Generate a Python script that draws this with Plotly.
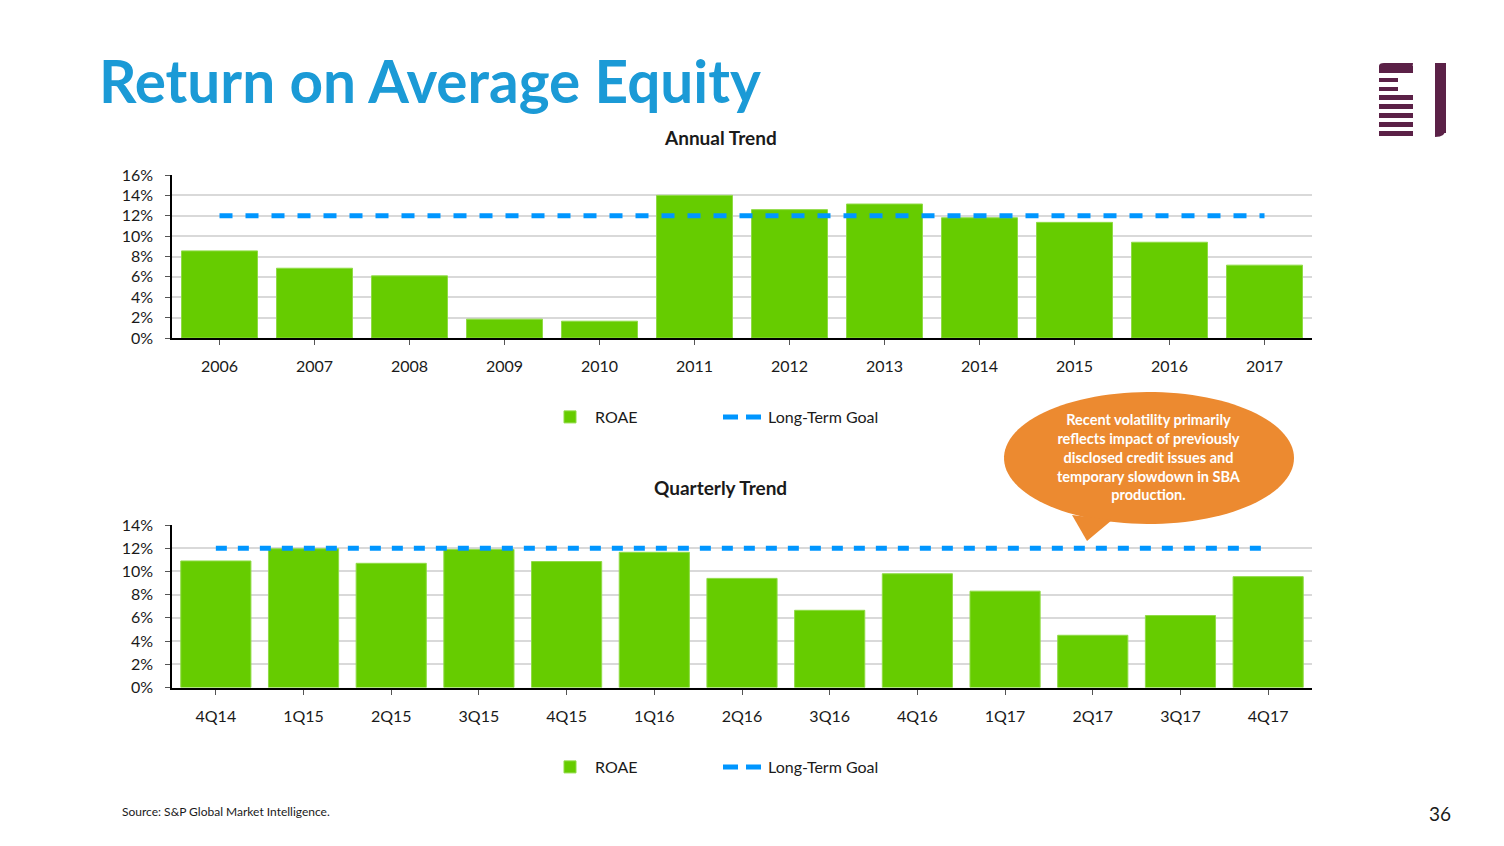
import numpy as np
import plotly.graph_objects as go

# ---------------- data ----------------
years = ["2006", "2007", "2008", "2009", "2010", "2011", "2012", "2013", "2014", "2015", "2016", "2017"]
annual_roae = [8.55, 6.85, 6.1, 1.85, 1.65, 14.0, 12.6, 13.15, 11.8, 11.35, 9.4, 7.15]
annual_goal = [12] * len(years)

quarters = ["4Q14", "1Q15", "2Q15", "3Q15", "4Q15", "1Q16", "2Q16", "3Q16", "4Q16", "1Q17", "2Q17", "3Q17", "4Q17"]
quarterly_roae = [10.9, 11.95, 10.7, 11.9, 10.85, 11.65, 9.4, 6.65, 9.8, 8.3, 4.5, 6.2, 9.55]
quarterly_goal = [12] * len(quarters)

W, H = 1504, 846
GREEN = "#66CC00"
BLUE = "#0096FF"
FONT = "Lato"
TXT = "#1a1a1a"


def px(x):
    return x / W


def py(y):
    return 1 - y / H


fig = go.Figure()

bar_style = dict(color=GREEN, line=dict(color="#8FDB45", width=1))
fig.add_trace(go.Bar(x=years, y=annual_roae, name="ROAE", marker=bar_style,
                     xaxis="x", yaxis="y", legend="legend", hoverinfo="skip"))
fig.add_trace(go.Scatter(x=years, y=annual_goal, name="Long-Term Goal", mode="lines", showlegend=False,
                         line=dict(color=BLUE, width=5, dash="13px,13px"), xaxis="x", yaxis="y"))
fig.add_trace(go.Scatter(x=[None], y=[None], name="Long-Term Goal", mode="lines",
                         line=dict(color=BLUE, width=5, dash="15px,8px"), xaxis="x", yaxis="y", legend="legend"))
fig.add_trace(go.Bar(x=quarters, y=quarterly_roae, name="ROAE", marker=bar_style,
                     xaxis="x2", yaxis="y2", legend="legend2", hoverinfo="skip"))
fig.add_trace(go.Scatter(x=quarters, y=quarterly_goal, name="Long-Term Goal", mode="lines", showlegend=False,
                         line=dict(color=BLUE, width=5, dash="11px,11px"), xaxis="x2", yaxis="y2"))
fig.add_trace(go.Scatter(x=[None], y=[None], name="Long-Term Goal", mode="lines",
                         line=dict(color=BLUE, width=5, dash="15px,8px"), xaxis="x2", yaxis="y2", legend="legend2"))

xdom = [px(172), px(1312)]
axis_font = dict(family=FONT, size=16, color=TXT)
common_x = dict(showgrid=False, showline=True, linecolor="#000000", linewidth=2, ticks="outside", ticklen=5,
                tickcolor="#555555", tickfont=axis_font, ticklabelstandoff=8, domain=xdom, fixedrange=True,
                automargin=False)
common_y = dict(showgrid=True, gridcolor="#D9D9D9", gridwidth=1.5, showline=True, linecolor="#000000", linewidth=1.5,
                ticks="outside", ticklen=5, tickcolor="#555555", tickfont=axis_font, ticksuffix="%", dtick=2,
                zeroline=False, ticklabelstandoff=9, fixedrange=True, automargin=False)

legend_common = dict(orientation="h", xanchor="left", yanchor="middle", itemwidth=40,
                     entrywidth=118, entrywidthmode="pixels", font=dict(family=FONT, size=16, color=TXT),
                     bgcolor="rgba(0,0,0,0)")

fig.update_layout(
    width=W, height=H, margin=dict(l=0, r=0, t=0, b=0, pad=0, autoexpand=False),
    paper_bgcolor="white", plot_bgcolor="white",
    bargap=0.2, showlegend=True,
    font=dict(family=FONT, color=TXT),
    xaxis=dict(**common_x, anchor="y"),
    yaxis=dict(**common_y, range=[0, 16], domain=[py(338), py(175)], anchor="x"),
    xaxis2=dict(**common_x, anchor="y2"),
    yaxis2=dict(**common_y, range=[0, 14], domain=[py(687.5), py(525)], anchor="x2"),
    legend=dict(**legend_common, x=px(545), y=py(417)),
    legend2=dict(**legend_common, x=px(545), y=py(767)),
)

annotations = [
    dict(text="<b>Return on Average Equity</b>", x=px(97), y=py(80), xanchor="left", yanchor="middle",
         font=dict(family=FONT, size=58.5, color="#1B9AD6")),
    dict(text="<b>Annual Trend</b>", x=px(720), y=py(137), xanchor="center", yanchor="middle",
         font=dict(family=FONT, size=19, color=TXT)),
    dict(text="<b>Quarterly Trend</b>", x=px(720), y=py(487), xanchor="center", yanchor="middle",
         font=dict(family=FONT, size=19, color=TXT)),
    dict(text="Source: S&P Global Market Intelligence.", x=px(120), y=py(811), xanchor="left", yanchor="middle",
         font=dict(family=FONT, size=12, color=TXT)),
    dict(text="36", x=px(1453), y=py(813), xanchor="right", yanchor="middle",
         font=dict(family=FONT, size=19, color=TXT)),
    dict(text="<b>Recent volatility primarily<br>reflects impact of previously<br>disclosed credit issues and<br>"
              "temporary slowdown in SBA<br>production.</b>",
         x=px(1149), y=py(457), xanchor="center", yanchor="middle", align="center",
         font=dict(family=FONT, size=14.5, color="white")),
]
for a in annotations:
    a.update(xref="paper", yref="paper", showarrow=False)
fig.update_layout(annotations=annotations)

# callout bubble (ellipse + tail)
cx, cy, rx, ry = 1149, 458, 145, 66
t = np.linspace(0, 2 * np.pi, 120)
pts = [(cx + rx * np.cos(a), cy + ry * np.sin(a)) for a in t]
path = "M " + " L ".join(f"{px(x):.5f},{py(y):.5f}" for x, y in pts) + " Z"
tail = f"M {px(1072):.5f},{py(515):.5f} L {px(1087):.5f},{py(541):.5f} L {px(1112):.5f},{py(520):.5f} Z"
ORANGE = "#EC8A30"
shapes = [
    dict(type="path", path=path, fillcolor=ORANGE, line=dict(width=0), xref="paper", yref="paper", layer="below"),
    dict(type="path", path=tail, fillcolor=ORANGE, line=dict(width=0), xref="paper", yref="paper", layer="below"),
]

# logo
PURPLE = "#5B2147"
logo_rects = [(1379, 66, 1413, 73), (1379, 78, 1398, 82), (1379, 87, 1398, 91), (1379, 95, 1413, 100),
              (1379, 104, 1413, 109), (1379, 113, 1413, 118), (1379, 122, 1413, 127), (1379, 131, 1413, 136),
              (1435, 63, 1446, 133)]
for x0, y0, x1, y1 in logo_rects:
    shapes.append(dict(type="rect", x0=px(x0), x1=px(x1), y0=py(y1), y1=py(y0), fillcolor=PURPLE,
                       line=dict(width=0), xref="paper", yref="paper"))
shapes.append(dict(type="path", xref="paper", yref="paper", fillcolor=PURPLE, line=dict(width=0),
                   path=f"M {px(1379):.5f},{py(73):.5f} L {px(1379):.5f},{py(66):.5f} Q {px(1379):.5f},{py(63):.5f} {px(1384):.5f},{py(63):.5f} "
                        f"L {px(1413):.5f},{py(63):.5f} Q {px(1413):.5f},{py(73):.5f} {px(1405):.5f},{py(73):.5f} Z"))
shapes.append(dict(type="path", xref="paper", yref="paper", fillcolor=PURPLE, line=dict(width=0),
                   path=f"M {px(1435):.5f},{py(133):.5f} L {px(1435):.5f},{py(137):.5f} Q {px(1446):.5f},{py(137):.5f} {px(1446):.5f},{py(128):.5f} L {px(1446):.5f},{py(133):.5f} Z"))
fig.update_layout(shapes=shapes)

fig.write_html("out.html", config={"displayModeBar": False},
               post_script="document.body.style.margin='0';document.body.style.overflow='hidden';")
